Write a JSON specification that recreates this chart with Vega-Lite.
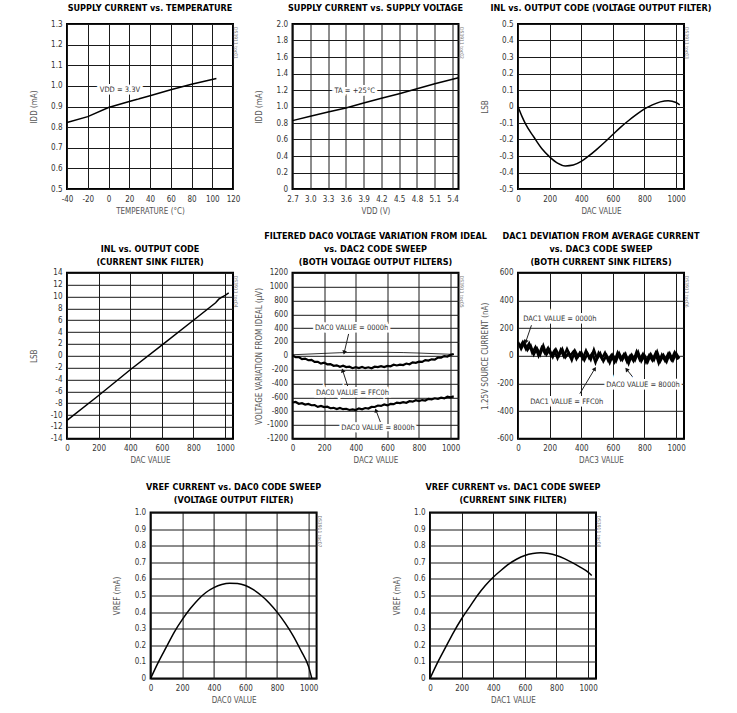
{
  "$schema": "https://vega.github.io/schema/vega-lite/v6.json",
  "background": "white",
  "padding": {"left": 29, "top": 2, "right": 5, "bottom": 5},
  "config": {
    "font": "DejaVu Sans Condensed, Liberation Sans Narrow, sans-serif",
    "view": {"stroke": "#000", "strokeWidth": 2},
    "axis": {"grid": true, "gridColor": "#1a1a1a", "gridWidth": 1, "gridOpacity": 1, "ticks": false, "domain": false, "labelFontSize": 8, "labelColor": "#333", "titleFontSize": 8, "titleFontWeight": "normal", "titleColor": "#555", "labelFlush": false, "labelOverlap": false},
    "axisX": {"labelPadding": 6, "titlePadding": 4},
    "axisY": {"labelPadding": 5, "titlePadding": 2, "minExtent": 27, "maxExtent": 27},
    "title": {"fontSize": 9, "fontWeight": "bold", "color": "#000", "offset": 5, "lineHeight": 13, "anchor": "middle"},
    "line": {"color": "#000", "strokeWidth": 1.5},
    "text": {"fontSize": 7.5, "color": "#333"}
  },
  "datasets": {
    "p1": [{"x": -40, "y": 0.822}, {"x": -20, "y": 0.851}, {"x": 0, "y": 0.895}, {"x": 20, "y": 0.924}, {"x": 40, "y": 0.952}, {"x": 60, "y": 0.981}, {"x": 80, "y": 1.008}, {"x": 104, "y": 1.036}],
    "p1a": [{"x": 11, "y": 0.98, "label": "VDD = 3.3V"}],
    "p2": [{"x": 2.7, "y": 0.829}, {"x": 3.0, "y": 0.881}, {"x": 3.3, "y": 0.934}, {"x": 3.6, "y": 0.982}, {"x": 3.9, "y": 1.042}, {"x": 4.2, "y": 1.1}, {"x": 4.5, "y": 1.155}, {"x": 4.8, "y": 1.215}, {"x": 5.1, "y": 1.275}, {"x": 5.5, "y": 1.348}],
    "p2a": [{"x": 3.75, "y": 1.183, "label": "TA = +25°C"}],
    "p3": [{"x": 0, "y": 0}, {"x": 25, "y": -0.06}, {"x": 50, "y": -0.11}, {"x": 100, "y": -0.185}, {"x": 150, "y": -0.255}, {"x": 200, "y": -0.305}, {"x": 250, "y": -0.343}, {"x": 300, "y": -0.36}, {"x": 350, "y": -0.355}, {"x": 400, "y": -0.333}, {"x": 450, "y": -0.298}, {"x": 500, "y": -0.258}, {"x": 550, "y": -0.215}, {"x": 600, "y": -0.17}, {"x": 650, "y": -0.125}, {"x": 700, "y": -0.085}, {"x": 750, "y": -0.048}, {"x": 800, "y": -0.015}, {"x": 850, "y": 0.01}, {"x": 900, "y": 0.028}, {"x": 950, "y": 0.035}, {"x": 1000, "y": 0.024}, {"x": 1023, "y": 0.01}],
    "p4": [{"x": 0, "y": -10.9}, {"x": 200, "y": -6.7}, {"x": 400, "y": -2.35}, {"x": 600, "y": 1.8}, {"x": 800, "y": 6.0}, {"x": 940, "y": 8.95}, {"x": 960, "y": 9.55}, {"x": 980, "y": 9.9}, {"x": 1000, "y": 10.2}, {"x": 1023, "y": 10.6}],
    "p5t": [{"x": 0, "y": 15}, {"x": 200, "y": 35}, {"x": 400, "y": 50}, {"x": 600, "y": 50}, {"x": 800, "y": 40}, {"x": 1000, "y": 22}, {"x": 1020, "y": 20}],
    "p5f": [{"x": 0, "y": 3}, {"x": 20, "y": -21}, {"x": 40, "y": -19}, {"x": 60, "y": -49}, {"x": 80, "y": -40}, {"x": 100, "y": -64}, {"x": 120, "y": -59}, {"x": 140, "y": -87}, {"x": 160, "y": -88}, {"x": 180, "y": -113}, {"x": 200, "y": -101}, {"x": 220, "y": -123}, {"x": 240, "y": -119}, {"x": 260, "y": -144}, {"x": 280, "y": -138}, {"x": 300, "y": -158}, {"x": 320, "y": -143}, {"x": 340, "y": -163}, {"x": 360, "y": -158}, {"x": 380, "y": -179}, {"x": 400, "y": -165}, {"x": 420, "y": -177}, {"x": 440, "y": -161}, {"x": 460, "y": -179}, {"x": 480, "y": -166}, {"x": 500, "y": -180}, {"x": 520, "y": -157}, {"x": 540, "y": -163}, {"x": 560, "y": -150}, {"x": 580, "y": -163}, {"x": 600, "y": -146}, {"x": 620, "y": -152}, {"x": 640, "y": -129}, {"x": 660, "y": -140}, {"x": 680, "y": -128}, {"x": 700, "y": -134}, {"x": 720, "y": -112}, {"x": 740, "y": -123}, {"x": 760, "y": -95}, {"x": 780, "y": -101}, {"x": 800, "y": -85}, {"x": 820, "y": -89}, {"x": 840, "y": -62}, {"x": 860, "y": -69}, {"x": 880, "y": -51}, {"x": 900, "y": -56}, {"x": 920, "y": -27}, {"x": 940, "y": -26}, {"x": 960, "y": -4}, {"x": 980, "y": -10}, {"x": 1000, "y": 14}, {"x": 1020, "y": 26}],
    "p5e": [{"x": 0, "y": -675}, {"x": 20, "y": -668}, {"x": 40, "y": -694}, {"x": 60, "y": -686}, {"x": 80, "y": -705}, {"x": 100, "y": -695}, {"x": 120, "y": -715}, {"x": 140, "y": -713}, {"x": 160, "y": -738}, {"x": 180, "y": -726}, {"x": 200, "y": -742}, {"x": 220, "y": -736}, {"x": 240, "y": -758}, {"x": 260, "y": -752}, {"x": 280, "y": -770}, {"x": 300, "y": -754}, {"x": 320, "y": -772}, {"x": 340, "y": -766}, {"x": 360, "y": -783}, {"x": 380, "y": -774}, {"x": 400, "y": -784}, {"x": 420, "y": -760}, {"x": 440, "y": -773}, {"x": 460, "y": -755}, {"x": 480, "y": -763}, {"x": 500, "y": -739}, {"x": 520, "y": -740}, {"x": 540, "y": -719}, {"x": 560, "y": -725}, {"x": 580, "y": -704}, {"x": 600, "y": -717}, {"x": 620, "y": -696}, {"x": 640, "y": -700}, {"x": 660, "y": -677}, {"x": 680, "y": -683}, {"x": 700, "y": -670}, {"x": 720, "y": -679}, {"x": 740, "y": -657}, {"x": 760, "y": -663}, {"x": 780, "y": -642}, {"x": 800, "y": -654}, {"x": 820, "y": -640}, {"x": 840, "y": -647}, {"x": 860, "y": -623}, {"x": 880, "y": -629}, {"x": 900, "y": -614}, {"x": 920, "y": -623}, {"x": 940, "y": -606}, {"x": 960, "y": -616}, {"x": 980, "y": -591}, {"x": 1000, "y": -600}, {"x": 1020, "y": -586}],
    "p5lab": [{"x": 374, "y": 403, "label": "DAC0 VALUE = 0000h"}, {"x": 380, "y": -533, "label": "DAC0 VALUE = FFC0h"}, {"x": 541, "y": -1045, "label": "DAC0 VALUE = 8000h"}],
    "p5arr": [{"x": 327, "y": 46, "x2": 355, "y2": 316, "a": 193}, {"x": 317, "y": -210, "x2": 349, "y2": -437, "a": 342}, {"x": 528, "y": -789, "x2": 556, "y2": -958, "a": 339}],
    "p6a": [{"x": 0, "y": 100}, {"x": 20, "y": 51}, {"x": 40, "y": 97}, {"x": 60, "y": 42}, {"x": 80, "y": 74}, {"x": 100, "y": 10}, {"x": 120, "y": 53}, {"x": 140, "y": 9}, {"x": 160, "y": 73}, {"x": 180, "y": 9}, {"x": 200, "y": 43}, {"x": 220, "y": -8}, {"x": 240, "y": 45}, {"x": 260, "y": 2}, {"x": 280, "y": 49}, {"x": 300, "y": -10}, {"x": 320, "y": 21}, {"x": 340, "y": -31}, {"x": 360, "y": 36}, {"x": 380, "y": -6}, {"x": 400, "y": 25}, {"x": 420, "y": -30}, {"x": 440, "y": 17}, {"x": 460, "y": -27}, {"x": 480, "y": 42}, {"x": 500, "y": -23}, {"x": 520, "y": 17}, {"x": 540, "y": -39}, {"x": 560, "y": 3}, {"x": 580, "y": -51}, {"x": 600, "y": 5}, {"x": 620, "y": -38}, {"x": 640, "y": 18}, {"x": 660, "y": -29}, {"x": 680, "y": 13}, {"x": 700, "y": -54}, {"x": 720, "y": 6}, {"x": 740, "y": -31}, {"x": 760, "y": 25}, {"x": 780, "y": -38}, {"x": 800, "y": 2}, {"x": 820, "y": -44}, {"x": 840, "y": 11}, {"x": 860, "y": -29}, {"x": 880, "y": 28}, {"x": 900, "y": -38}, {"x": 920, "y": 4}, {"x": 940, "y": -42}, {"x": 960, "y": 16}, {"x": 980, "y": -34}, {"x": 1000, "y": 18}, {"x": 1020, "y": -20}],
    "p6b": [{"x": 10, "y": 60}, {"x": 30, "y": 99}, {"x": 50, "y": 49}, {"x": 70, "y": 89}, {"x": 90, "y": 22}, {"x": 110, "y": 62}, {"x": 130, "y": 1}, {"x": 150, "y": 59}, {"x": 170, "y": 19}, {"x": 190, "y": 57}, {"x": 210, "y": 1}, {"x": 230, "y": 37}, {"x": 250, "y": -17}, {"x": 270, "y": 42}, {"x": 290, "y": -5}, {"x": 310, "y": 49}, {"x": 330, "y": 0}, {"x": 350, "y": 30}, {"x": 370, "y": -23}, {"x": 390, "y": 20}, {"x": 410, "y": -20}, {"x": 430, "y": 36}, {"x": 450, "y": -16}, {"x": 470, "y": 18}, {"x": 490, "y": -48}, {"x": 510, "y": 20}, {"x": 530, "y": -20}, {"x": 550, "y": 21}, {"x": 570, "y": -32}, {"x": 590, "y": 4}, {"x": 610, "y": -43}, {"x": 630, "y": 22}, {"x": 650, "y": -27}, {"x": 670, "y": 11}, {"x": 690, "y": -44}, {"x": 710, "y": 0}, {"x": 730, "y": -37}, {"x": 750, "y": 29}, {"x": 770, "y": -28}, {"x": 790, "y": 12}, {"x": 810, "y": -46}, {"x": 830, "y": 4}, {"x": 850, "y": -33}, {"x": 870, "y": 19}, {"x": 890, "y": -52}, {"x": 910, "y": 6}, {"x": 930, "y": -36}, {"x": 950, "y": 14}, {"x": 970, "y": -28}, {"x": 990, "y": 23}, {"x": 1010, "y": -28}],
    "p6lab": [{"x": 265, "y": 264, "label": "DAC1 VALUE = 0000h"}, {"x": 308, "y": -337, "label": "DAC1 VALUE = FFC0h"}, {"x": 791, "y": -209, "label": "DAC0 VALUE = 8000h"}],
    "p6arr": [{"x": 49, "y": 100, "x2": 85, "y2": 221, "a": 199}, {"x": 486, "y": -93, "x2": 391, "y2": -274, "a": 31}, {"x": 687, "y": -98, "x2": 729, "y2": -158, "a": 322}],
    "p7": [{"x": 0, "y": 0}, {"x": 50, "y": 0.1}, {"x": 100, "y": 0.19}, {"x": 150, "y": 0.28}, {"x": 200, "y": 0.355}, {"x": 250, "y": 0.42}, {"x": 300, "y": 0.475}, {"x": 350, "y": 0.518}, {"x": 400, "y": 0.547}, {"x": 450, "y": 0.566}, {"x": 500, "y": 0.574}, {"x": 550, "y": 0.572}, {"x": 600, "y": 0.56}, {"x": 650, "y": 0.535}, {"x": 700, "y": 0.5}, {"x": 750, "y": 0.455}, {"x": 800, "y": 0.4}, {"x": 850, "y": 0.335}, {"x": 900, "y": 0.26}, {"x": 950, "y": 0.17}, {"x": 1000, "y": 0.07}, {"x": 1020, "y": 0}],
    "p8": [{"x": 0, "y": 0}, {"x": 50, "y": 0.1}, {"x": 100, "y": 0.19}, {"x": 150, "y": 0.28}, {"x": 200, "y": 0.36}, {"x": 250, "y": 0.43}, {"x": 300, "y": 0.5}, {"x": 350, "y": 0.56}, {"x": 400, "y": 0.61}, {"x": 450, "y": 0.652}, {"x": 500, "y": 0.69}, {"x": 550, "y": 0.72}, {"x": 600, "y": 0.741}, {"x": 650, "y": 0.753}, {"x": 700, "y": 0.757}, {"x": 750, "y": 0.753}, {"x": 800, "y": 0.741}, {"x": 850, "y": 0.722}, {"x": 900, "y": 0.698}, {"x": 950, "y": 0.671}, {"x": 1000, "y": 0.641}, {"x": 1023, "y": 0.62}]
  },
  "vconcat": [
    {
      "hconcat": [
        {
          "width": 166, "height": 165,
          "title": {"text": "SUPPLY CURRENT vs. TEMPERATURE", "offset": 7.5},
          "encoding": {
            "x": {"field": "x", "type": "quantitative", "scale": {"domain": [-40, 120], "nice": false, "zero": false}, "axis": {"title": "TEMPERATURE (°C)", "values": [-40, -20, 0, 20, 40, 60, 80, 100, 120], "labelExpr": "toString(datum.value)"}},
            "y": {"field": "y", "type": "quantitative", "scale": {"domain": [0.5, 1.3], "nice": false, "zero": false}, "axis": {"title": "IDD (mA)", "values": [0.5, 0.6, 0.7, 0.8, 0.9, 1.0, 1.1, 1.2, 1.3], "labelExpr": "datum.value == 0 ? '0' : replace(format(datum.value, '.1f'), '\u2212', '-')"}}
          },
          "layer": [
            {"data": {"name": "p1"}, "mark": {"type": "line"}},
            {"data": {"name": "p1a"}, "mark": {"type": "text", "color": "white", "stroke": "white", "strokeWidth": 5}, "encoding": {"text": {"field": "label"}}},
            {"data": {"name": "p1a"}, "mark": {"type": "text"}, "encoding": {"text": {"field": "label"}}},
            {"data": {"values": [{"x": 120, "y": 1.3, "label": "DS3911 toc01"}]}, "mark": {"type": "text", "angle": 90, "align": "left", "baseline": "bottom", "fontSize": 5, "dx": 3, "color": "#777"}, "encoding": {"text": {"field": "label"}}}
          ]
        },
        {
          "width": 166, "height": 165,
          "title": {"text": "SUPPLY CURRENT vs. SUPPLY VOLTAGE", "offset": 7.5},
          "encoding": {
            "x": {"field": "x", "type": "quantitative", "scale": {"domain": [2.7, 5.5], "nice": false, "zero": false}, "axis": {"title": "VDD (V)", "values": [2.7, 3.0, 3.3, 3.6, 3.9, 4.2, 4.5, 4.8, 5.1, 5.4], "labelExpr": "format(datum.value, '.1f')"}},
            "y": {"field": "y", "type": "quantitative", "scale": {"domain": [0, 2], "nice": false, "zero": false}, "axis": {"title": "IDD (mA)", "values": [0, 0.2, 0.4, 0.6, 0.8, 1.0, 1.2, 1.4, 1.6, 1.8, 2.0], "labelExpr": "datum.value == 0 ? '0' : replace(format(datum.value, '.1f'), '\u2212', '-')"}}
          },
          "layer": [
            {"data": {"name": "p2"}, "mark": {"type": "line"}},
            {"data": {"name": "p2a"}, "mark": {"type": "text", "color": "white", "stroke": "white", "strokeWidth": 5}, "encoding": {"text": {"field": "label"}}},
            {"data": {"name": "p2a"}, "mark": {"type": "text"}, "encoding": {"text": {"field": "label"}}},
            {"data": {"values": [{"x": 5.5, "y": 2.0, "label": "DS3911 toc02"}]}, "mark": {"type": "text", "angle": 90, "align": "left", "baseline": "bottom", "fontSize": 5, "dx": 3, "color": "#777"}, "encoding": {"text": {"field": "label"}}}
          ]
        },
        {
          "width": 166, "height": 165,
          "title": {"text": "INL vs. OUTPUT CODE (VOLTAGE OUTPUT FILTER)", "offset": 7.5},
          "encoding": {
            "x": {"field": "x", "type": "quantitative", "scale": {"domain": [0, 1050], "nice": false, "zero": false}, "axis": {"title": "DAC VALUE", "values": [0, 200, 400, 600, 800, 1000], "labelExpr": "toString(datum.value)"}},
            "y": {"field": "y", "type": "quantitative", "scale": {"domain": [-0.5, 0.5], "nice": false, "zero": false}, "axis": {"title": "LSB", "values": [-0.5, -0.4, -0.3, -0.2, -0.1, 0, 0.1, 0.2, 0.3, 0.4, 0.5], "labelExpr": "datum.value == 0 ? '0' : replace(format(datum.value, '.1f'), '\u2212', '-')"}}
          },
          "layer": [
            {"data": {"name": "p3"}, "mark": {"type": "line", "interpolate": "monotone"}},
            {"data": {"values": [{"x": 1050, "y": 0.5, "label": "DS3911 toc03"}]}, "mark": {"type": "text", "angle": 90, "align": "left", "baseline": "bottom", "fontSize": 5, "dx": 3, "color": "#777"}, "encoding": {"text": {"field": "label"}}}
          ]
        }
      ],
      "spacing": 59.5,
      "bounds": "flush"
    },
    {
      "vconcat": [
        {
          "hconcat": [
            {
              "width": 166, "height": 166,
              "title": {"text": ["INL vs. OUTPUT CODE", "(CURRENT SINK FILTER)"], "offset": 2},
              "encoding": {
                "x": {"field": "x", "type": "quantitative", "scale": {"domain": [0, 1050], "nice": false, "zero": false}, "axis": {"title": "DAC VALUE", "values": [0, 200, 400, 600, 800, 1000], "labelExpr": "toString(datum.value)"}},
                "y": {"field": "y", "type": "quantitative", "scale": {"domain": [-14, 14], "nice": false, "zero": false}, "axis": {"title": "LSB", "values": [-14, -12, -10, -8, -6, -4, -2, 0, 2, 4, 6, 8, 10, 12, 14], "labelExpr": "toString(datum.value)"}}
              },
              "layer": [
                {"data": {"name": "p4"}, "mark": {"type": "line"}},
                {"data": {"values": [{"x": 1050, "y": 14, "label": "DS3911 toc04"}]}, "mark": {"type": "text", "angle": 90, "align": "left", "baseline": "bottom", "fontSize": 5, "dx": 3, "color": "#777"}, "encoding": {"text": {"field": "label"}}}
              ]
            },
            {
              "width": 166, "height": 166,
              "title": {"text": ["FILTERED DAC0 VOLTAGE VARIATION FROM IDEAL", "vs. DAC2 CODE SWEEP", "(BOTH VOLTAGE OUTPUT FILTERS)"], "offset": 2},
              "encoding": {
                "x": {"field": "x", "type": "quantitative", "scale": {"domain": [0, 1050], "nice": false, "zero": false}, "axis": {"title": "DAC2 VALUE", "values": [0, 200, 400, 600, 800, 1000], "labelExpr": "toString(datum.value)"}},
                "y": {"field": "y", "type": "quantitative", "scale": {"domain": [-1200, 1200], "nice": false, "zero": false}, "axis": {"title": "VOLTAGE VARIATION FROM IDEAL (µV)", "values": [-1200, -1000, -800, -600, -400, -200, 0, 200, 400, 600, 800, 1000, 1200], "labelExpr": "toString(datum.value)"}}
              },
              "layer": [
                {"data": {"name": "p5t"}, "mark": {"type": "line", "strokeWidth": 0.8, "interpolate": "monotone"}},
                {"data": {"name": "p5f"}, "mark": {"type": "line", "strokeWidth": 2.2}},
                {"data": {"name": "p5e"}, "mark": {"type": "line", "strokeWidth": 2.2}},
                {"data": {"name": "p5arr"}, "mark": {"type": "rule", "color": "#222", "strokeWidth": 1}, "encoding": {"x2": {"field": "x2"}, "y2": {"field": "y2"}}},
                {"data": {"name": "p5arr"}, "mark": {"type": "point", "shape": "triangle-up", "filled": true, "size": 22, "color": "#111", "opacity": 1}, "encoding": {"angle": {"field": "a", "type": "quantitative", "scale": null}}},
                {"data": {"name": "p5lab"}, "mark": {"type": "text", "color": "white", "stroke": "white", "strokeWidth": 5}, "encoding": {"text": {"field": "label"}}},
                {"data": {"name": "p5lab"}, "mark": {"type": "text"}, "encoding": {"text": {"field": "label"}}},
                {"data": {"values": [{"x": 1050, "y": 1200, "label": "DS3911 toc05"}]}, "mark": {"type": "text", "angle": 90, "align": "left", "baseline": "bottom", "fontSize": 5, "dx": 3, "color": "#777"}, "encoding": {"text": {"field": "label"}}}
              ]
            },
            {
              "width": 166, "height": 166,
              "title": {"text": ["DAC1 DEVIATION FROM AVERAGE CURRENT", "vs. DAC3 CODE SWEEP", "(BOTH CURRENT SINK FILTERS)"], "offset": 2},
              "encoding": {
                "x": {"field": "x", "type": "quantitative", "scale": {"domain": [0, 1050], "nice": false, "zero": false}, "axis": {"title": "DAC3 VALUE", "values": [0, 200, 400, 600, 800, 1000], "labelExpr": "toString(datum.value)"}},
                "y": {"field": "y", "type": "quantitative", "scale": {"domain": [-600, 600], "nice": false, "zero": false}, "axis": {"title": "1.25V SOURCE CURRENT (nA)", "values": [-600, -400, -200, 0, 200, 400, 600], "labelExpr": "toString(datum.value)"}}
              },
              "layer": [
                {"data": {"name": "p6a"}, "mark": {"type": "line", "strokeWidth": 2.5}},
                {"data": {"name": "p6b"}, "mark": {"type": "line", "strokeWidth": 2.5}},
                {"data": {"name": "p6arr"}, "mark": {"type": "rule", "color": "#222", "strokeWidth": 1}, "encoding": {"x2": {"field": "x2"}, "y2": {"field": "y2"}}},
                {"data": {"name": "p6arr"}, "mark": {"type": "point", "shape": "triangle-up", "filled": true, "size": 22, "color": "#111", "opacity": 1}, "encoding": {"angle": {"field": "a", "type": "quantitative", "scale": null}}},
                {"data": {"name": "p6lab"}, "mark": {"type": "text", "color": "white", "stroke": "white", "strokeWidth": 5}, "encoding": {"text": {"field": "label"}}},
                {"data": {"name": "p6lab"}, "mark": {"type": "text"}, "encoding": {"text": {"field": "label"}}},
                {"data": {"values": [{"x": 1050, "y": 600, "label": "DS3911 toc06"}]}, "mark": {"type": "text", "angle": 90, "align": "left", "baseline": "bottom", "fontSize": 5, "dx": 3, "color": "#777"}, "encoding": {"text": {"field": "label"}}}
              ]
            }
          ],
          "spacing": 59.5,
          "bounds": "flush"
        },
        {
          "hconcat": [
            {
              "width": 1, "height": 166,
              "data": {"values": []},
              "mark": {"type": "point"},
              "view": {"stroke": null}
            },
            {
              "hconcat": [
                {
                  "width": 166, "height": 166,
                  "title": {"text": ["VREF CURRENT vs. DAC0 CODE SWEEP", "(VOLTAGE OUTPUT FILTER)"], "offset": 3.7},
                  "encoding": {
                    "x": {"field": "x", "type": "quantitative", "scale": {"domain": [0, 1050], "nice": false, "zero": false}, "axis": {"title": "DAC0 VALUE", "values": [0, 200, 400, 600, 800, 1000], "labelExpr": "toString(datum.value)"}},
                    "y": {"field": "y", "type": "quantitative", "scale": {"domain": [0, 1], "nice": false, "zero": false}, "axis": {"title": "VREF (mA)", "values": [0, 0.1, 0.2, 0.3, 0.4, 0.5, 0.6, 0.7, 0.8, 0.9, 1.0], "labelExpr": "datum.value == 0 ? '0' : format(datum.value, '.1f')"}}
                  },
                  "layer": [
                    {"data": {"name": "p7"}, "mark": {"type": "line", "interpolate": "monotone"}},
                    {"data": {"values": [{"x": 1050, "y": 1, "label": "DS3911 toc07"}]}, "mark": {"type": "text", "angle": 90, "align": "left", "baseline": "bottom", "fontSize": 5, "dx": 3, "color": "#777"}, "encoding": {"text": {"field": "label"}}}
                  ]
                },
                {
                  "width": 166, "height": 166,
                  "title": {"text": ["VREF CURRENT vs. DAC1 CODE SWEEP", "(CURRENT SINK FILTER)"], "offset": 3.7},
                  "encoding": {
                    "x": {"field": "x", "type": "quantitative", "scale": {"domain": [0, 1050], "nice": false, "zero": false}, "axis": {"title": "DAC1 VALUE", "values": [0, 200, 400, 600, 800, 1000], "labelExpr": "toString(datum.value)"}},
                    "y": {"field": "y", "type": "quantitative", "scale": {"domain": [0, 1], "nice": false, "zero": false}, "axis": {"title": "VREF (mA)", "values": [0, 0.1, 0.2, 0.3, 0.4, 0.5, 0.6, 0.7, 0.8, 0.9, 1.0], "labelExpr": "datum.value == 0 ? '0' : format(datum.value, '.1f')"}}
                  },
                  "layer": [
                    {"data": {"name": "p8"}, "mark": {"type": "line", "interpolate": "monotone"}},
                    {"data": {"values": [{"x": 1050, "y": 1, "label": "DS3911 toc08"}]}, "mark": {"type": "text", "angle": 90, "align": "left", "baseline": "bottom", "fontSize": 5, "dx": 3, "color": "#777"}, "encoding": {"text": {"field": "label"}}}
                  ]
                }
              ],
              "spacing": 113.4,
              "bounds": "flush"
            }
          ],
          "spacing": 82.6,
          "bounds": "flush"
        }
      ],
      "spacing": 15.7
    }
  ],
  "spacing": 14.8
}
